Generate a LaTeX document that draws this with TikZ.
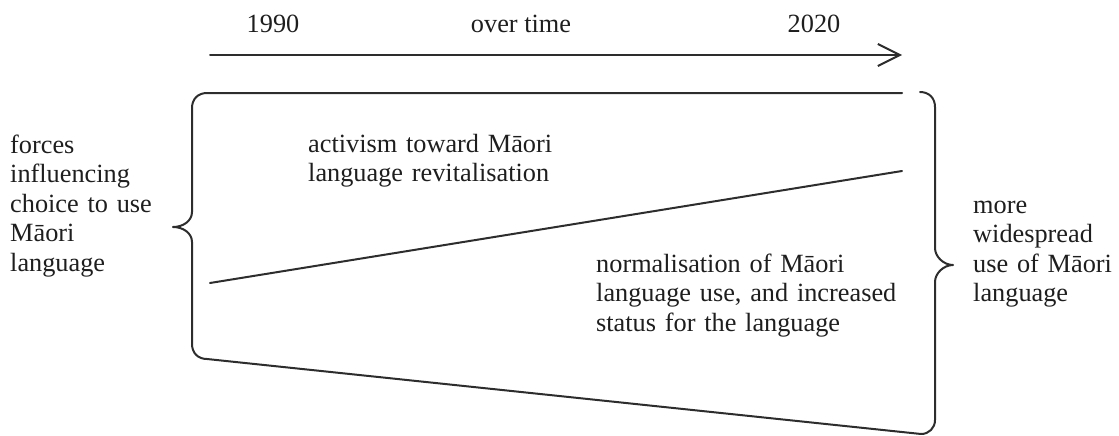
\documentclass[tikz,border=0pt]{standalone}
\usepackage{fontspec}
\setmainfont{Liberation Serif}
\usetikzlibrary{arrows.meta}
\definecolor{inkc}{RGB}{45,45,45}
\definecolor{textc}{RGB}{30,30,30}
\begin{document}
\begin{tikzpicture}[x=1pt,y=-1pt,
  ink/.style={draw=inkc, line width=2pt, line cap=round, line join=round},
  lbl/.style={anchor=base west, inner sep=0pt, text=textc,
    font=\fontsize{26.3}{29.5}\selectfont, align=left, text width=#1},
  lbl/.default=300pt,
  yr/.style={anchor=base, inner sep=0pt, text=textc,
    font=\fontsize{26.3}{29.5}\selectfont},
]
\useasboundingbox (0,0) rectangle (1119,436);

% time axis
\node[yr] (y1990) at (273,33) {1990};
\node[yr] (overtime) at (521,33) {over time};
\node[yr] (y2020) at (814,33) {2020};
\coordinate (t0) at (210,55);
\coordinate (t1) at (902,55);
\draw[ink, -{Straight Barb[length=22pt,width=22pt]}] (t0) -- (t1);

% left brace joined to the upper and lower bounding lines
\draw[ink] (902,93) -- (207,93)
  .. controls (198,93) and (192,99) .. (192,108) -- (192,212)
  .. controls (192,221) and (183,227) .. (173,227)
  .. controls (183,227) and (192,233) .. (192,242) -- (192,344)
  .. controls (192,353) and (198,359) .. (207,359) -- (921,434);

% right brace
\draw[ink] (920,92) .. controls (929,92) and (935,98) .. (935,107) -- (935,248)
  .. controls (935,257) and (944,265) .. (953,265)
  .. controls (944,265) and (935,273) .. (935,282) -- (935,420)
  .. controls (935,428) and (929,434) .. (921,434);

% dividing trend line
\coordinate (d0) at (210,283);
\coordinate (d1) at (902,171);
\draw[ink] (d0) -- (d1);

% labels
\node[lbl=160pt] (forces) at (10,153)
  {forces\\influencing\\\makebox[149pt][s]{choice to use}\\Māori\\language};
\node[lbl=150pt] (outcome) at (973,213)
  {more\\widespread\\\makebox[140pt][s]{use of Māori}\\language};
\node[lbl] (activism) at (308,152)
  {activism toward Māori\\language revitalisation};
\node[lbl=400pt] (normal) at (596,272)
  {normalisation of Māori\\language use, and increased\\status for the language};
\end{tikzpicture}
\end{document}
